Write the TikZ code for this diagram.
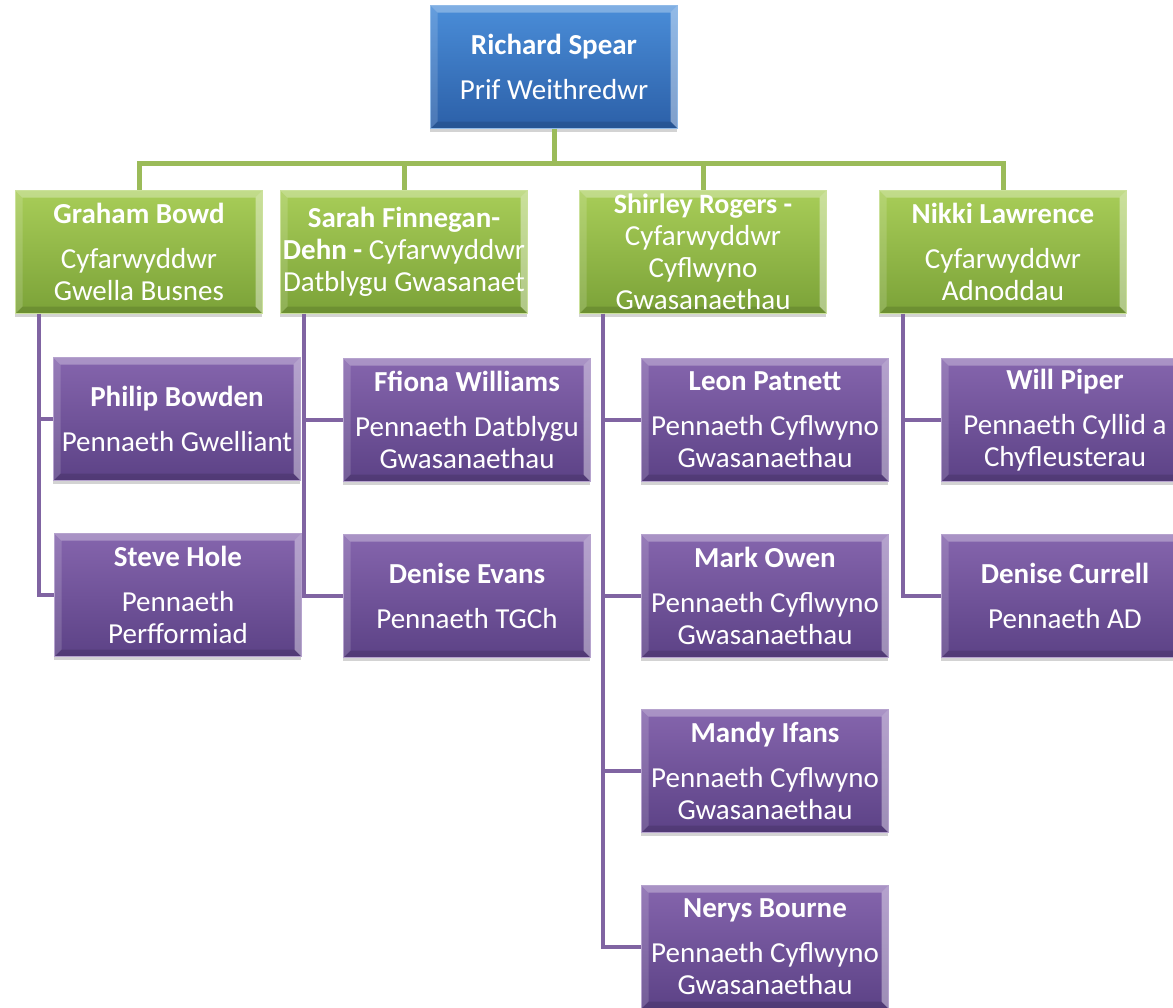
\documentclass[tikz,border=0pt]{standalone}
\usepackage{fontspec}
\setmainfont{Carlito}
\usetikzlibrary{shadows}
\definecolor{chieftop}{HTML}{4A8DD8}
\definecolor{chiefbottom}{HTML}{2C60A8}
\definecolor{directortop}{HTML}{A8CD58}
\definecolor{directorbottom}{HTML}{7BA238}
\definecolor{headtop}{HTML}{8565AD}
\definecolor{headbottom}{HTML}{5C4286}
\definecolor{greenconn}{HTML}{9BBB59}
\definecolor{purpleconn}{HTML}{8064A2}
\begin{document}
\begin{tikzpicture}
[x=1pt,y=-1pt,
  bevel/.style={path picture={
    \path (path picture bounding box.south west) coordinate (bl)
          (path picture bounding box.north east) coordinate (tr);
    \fill[white,opacity=.30] (bl|-tr) -- (tr) -- ([shift={(-7pt,-7pt)}]tr) -- ([shift={(7pt,-7pt)}]bl|-tr) -- cycle;
    \fill[white,opacity=.15] (bl|-tr) -- ([shift={(7pt,-7pt)}]bl|-tr) -- ([shift={(7pt,7pt)}]bl) -- (bl) -- cycle;
    \fill[white,opacity=.40] (tr) -- (tr|-bl) -- ([shift={(-7pt,7pt)}]tr|-bl) -- ([shift={(-7pt,-7pt)}]tr) -- cycle;
    \fill[black,opacity=.12] (bl) -- (tr|-bl) -- ([shift={(-7pt,7pt)}]tr|-bl) -- ([shift={(7pt,7pt)}]bl) -- cycle;}},
  boxdecorate/.style={shape=rectangle,minimum width=247,minimum height=123,inner sep=1pt,
    align=center,text=white,font=\fontsize{29}{32}\selectfont,
    drop shadow={shadow xshift=-1pt,shadow yshift=-3pt,opacity=.35},bevel},
  chiefdecorate/.style={boxdecorate,top color=chieftop,bottom color=chiefbottom,draw=chieftop!60!white,line width=.8},
  directordecorate/.style={boxdecorate,top color=directortop,bottom color=directorbottom,draw=directortop!60!white,line width=.8},
  headdecorate/.style={boxdecorate,top color=headtop,bottom color=headbottom,draw=headtop!60!white,line width=.8},
  greenline/.style={-,line width=5,draw=greenconn},
  purpleline/.style={-,line width=4.5,draw=purpleconn}]
\clip (0,0) rectangle (1173,1007);
%% chief executive
\node (chief) at (554,67) [chiefdecorate] {\textbf{Richard Spear}\\[13pt] Prif Weithredwr};
%% directors
\foreach \nodename/\x/\txt in {%
  g1/139/{\textbf{Graham Bowd}\\[13pt] Cyfarwyddwr\\ Gwella Busnes},
  g2/404/{\textbf{Sarah Finnegan-}\\ \textbf{Dehn -} Cyfarwyddwr\\ Datblygu Gwasanaet},
  g3/703/{\fontsize{24.8}{30}\selectfont{\fontsize{28}{30}\selectfont\textbf{Shirley Rogers -}}\\ Cyfarwyddwr\\ Cyflwyno\\ Gwasanaethau},
  g4/1003/{\textbf{Nikki Lawrence}\\[13pt] Cyfarwyddwr\\ Adnoddau}} {
  \node (\nodename) at (\x,252) [directordecorate] {\txt};
}
%% heads of service
\foreach \nodename/\x/\y/\txt in {%
  p1/177/419/{\textbf{Philip Bowden}\\[13pt] Pennaeth Gwelliant},
  p2/178/595/{\textbf{Steve Hole}\\[13pt] Pennaeth\\ Perfformiad},
  p3/467/420/{\textbf{Ffiona Williams}\\[13pt] Pennaeth Datblygu\\ Gwasanaethau},
  p4/467/596/{\textbf{Denise Evans}\\[13pt] Pennaeth TGCh},
  p5/765/420/{\textbf{Leon Patnett}\\[13pt] Pennaeth Cyflwyno\\ Gwasanaethau},
  p6/765/596/{\textbf{Mark Owen}\\[13pt] Pennaeth Cyflwyno\\ Gwasanaethau},
  p7/765/771/{\textbf{Mandy Ifans}\\[13pt] Pennaeth Cyflwyno\\ Gwasanaethau},
  p8/765/947/{\textbf{Nerys Bourne}\\[13pt] Pennaeth Cyflwyno\\ Gwasanaethau},
  p9/1065/420/{\textbf{Will Piper}\\[13pt] Pennaeth Cyllid a\\ Chyfleusterau},
  p10/1065/596/{\textbf{Denise Currell}\\[13pt] Pennaeth AD}} {
  \node (\nodename) at (\x,\y) [headdecorate] {\txt};
}
%% lines to directors
\foreach \endnode in {g1,g2,g3,g4} {
  \draw[greenline] (chief.south) -- ++(0,35) -| (\endnode.north);
}
%% lines to heads
\foreach \startnode/\endnode in {g1/p1, g1/p2, g2/p3, g2/p4, g3/p5, g3/p6, g3/p7, g3/p8, g4/p9, g4/p10} {
  \draw[purpleline] ([xshift=24pt]\startnode.south west) |- (\endnode.west);
}
\end{tikzpicture}
\end{document}
